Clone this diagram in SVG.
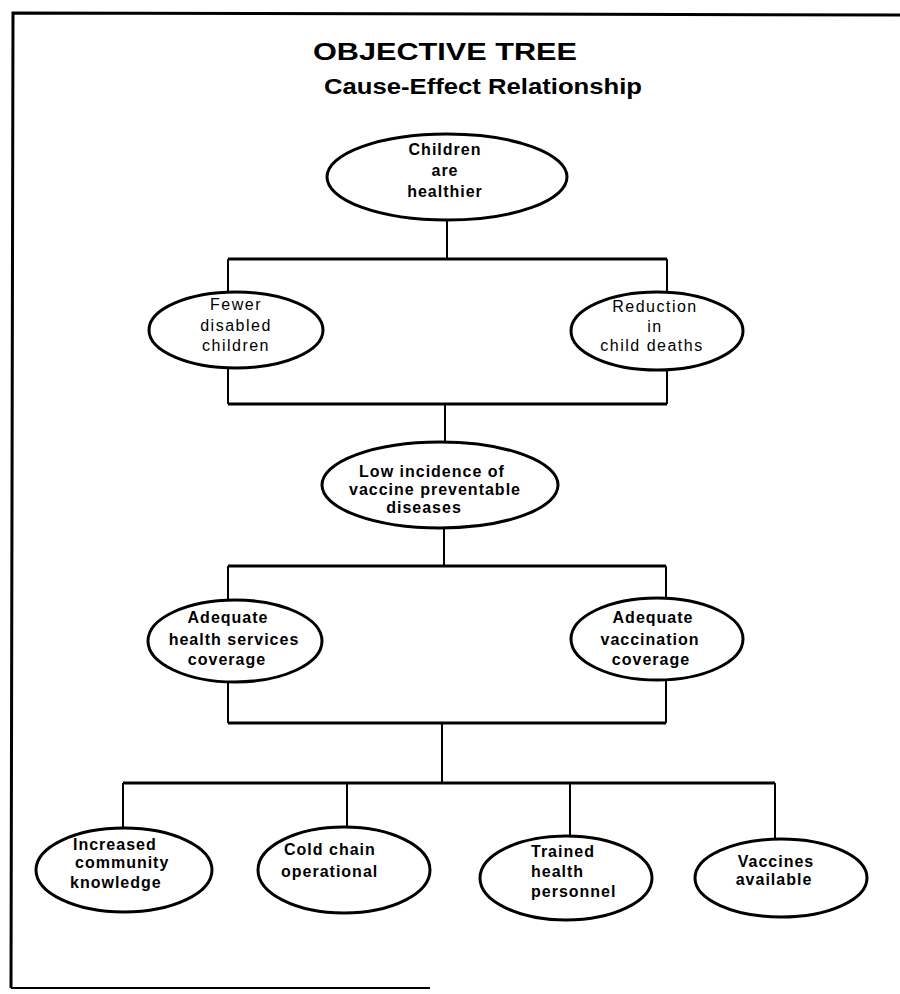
<svg xmlns="http://www.w3.org/2000/svg" width="900" height="994" viewBox="0 0 900 994">
  <style>
    .frame { fill: none; stroke: #000; stroke-width: 3; }
    .node ellipse { fill: #fff; stroke: #000; stroke-width: 3; }
    .node text { font-family: "Liberation Sans", Arial, sans-serif; font-size: 16px; font-weight: bold; letter-spacing: 1px; fill: #000; text-anchor: middle; }
    .node text.light { font-weight: normal; letter-spacing: 1.5px; }
    .node text.left { text-anchor: start; }
    .title { font-family: "Liberation Sans", Arial, sans-serif; font-weight: bold; fill: #000; }
    .wire { fill: none; stroke: #000; stroke-width: 2; }
    .bar { fill: none; stroke: #000; stroke-width: 3; }
  </style>
  <rect width="900" height="994" fill="#fff"/>

  <!-- page frame: open on the right, short rule along the bottom -->
  <path class="frame" d="M11,988 L13,13 L900,15"/>
  <path class="wire" d="M11,988 H430"/>

  <!-- heading -->
  <text class="title" x="313" y="60" font-size="24" textLength="264" lengthAdjust="spacingAndGlyphs">OBJECTIVE  TREE</text>
  <text class="title" x="324" y="94" font-size="22" textLength="318" lengthAdjust="spacingAndGlyphs">Cause-Effect Relationship</text>

  <!-- connectors -->
  <g id="connectors">
    <path class="wire" d="M447,220 V259"/>
    <path class="bar" d="M228,259 H667"/>
    <path class="wire" d="M228,259 V292 M667,259 V292"/>
    <path class="wire" d="M228,368 V404 M667,370 V404"/>
    <path class="bar" d="M228,404 H667"/>
    <path class="wire" d="M445,404 V442"/>
    <path class="wire" d="M444,528 V566"/>
    <path class="bar" d="M228,566 H666"/>
    <path class="wire" d="M228,566 V600 M666,566 V598"/>
    <path class="wire" d="M228,682 V723 M666,680 V723"/>
    <path class="bar" d="M228,723 H666"/>
    <path class="wire" d="M442,723 V783"/>
    <path class="bar" d="M123,783 H775"/>
    <path class="wire" d="M123,783 V828 M347,783 V828 M570,783 V837 M775,783 V840"/>
  </g>

  <g id="n-healthier" class="node">
    <ellipse cx="447" cy="177" rx="120" ry="43"/>
    <text x="445" y="155">Children</text>
    <text x="445" y="176">are</text>
    <text x="445" y="197">healthier</text>
  </g>

  <g id="n-fewer-disabled" class="node">
    <ellipse cx="236" cy="330" rx="87" ry="38"/>
    <text class="light" x="236" y="310">Fewer</text>
    <text class="light" x="236" y="331">disabled</text>
    <text class="light" x="236" y="351">children</text>
  </g>

  <g id="n-fewer-deaths" class="node">
    <ellipse cx="657" cy="331" rx="86" ry="39"/>
    <text class="light" x="655" y="312">Reduction</text>
    <text class="light" x="655" y="332">in</text>
    <text class="light" x="652" y="351">child deaths</text>
  </g>

  <g id="n-low-incidence" class="node">
    <ellipse cx="440" cy="485" rx="118" ry="43"/>
    <text x="432" y="477">Low incidence of</text>
    <text x="435" y="495">vaccine preventable</text>
    <text x="424" y="513">diseases</text>
  </g>

  <g id="n-health-services" class="node">
    <ellipse cx="235" cy="641" rx="87" ry="41"/>
    <text x="228" y="623">Adequate</text>
    <text x="234" y="645">health services</text>
    <text x="227" y="665">coverage</text>
  </g>

  <g id="n-vaccination" class="node">
    <ellipse cx="657" cy="639" rx="86" ry="41"/>
    <text x="653" y="623">Adequate</text>
    <text x="650" y="645">vaccination</text>
    <text x="651" y="665">coverage</text>
  </g>

  <g id="n-knowledge" class="node">
    <ellipse cx="124" cy="870" rx="88" ry="42"/>
    <text class="left" x="73" y="850">Increased</text>
    <text class="left" x="75" y="868">community</text>
    <text class="left" x="70" y="888">knowledge</text>
  </g>

  <g id="n-cold-chain" class="node">
    <ellipse cx="344" cy="870" rx="86" ry="43"/>
    <text class="left" x="284" y="855">Cold chain</text>
    <text class="left" x="281" y="877">operational</text>
  </g>

  <g id="n-personnel" class="node">
    <ellipse cx="566" cy="878" rx="86" ry="42"/>
    <text class="left" x="531" y="857">Trained</text>
    <text class="left" x="531" y="877">health</text>
    <text class="left" x="531" y="897">personnel</text>
  </g>

  <g id="n-vaccines" class="node">
    <ellipse cx="781" cy="878" rx="86" ry="39"/>
    <text x="776" y="867">Vaccines</text>
    <text x="774" y="885">available</text>
  </g>
</svg>
